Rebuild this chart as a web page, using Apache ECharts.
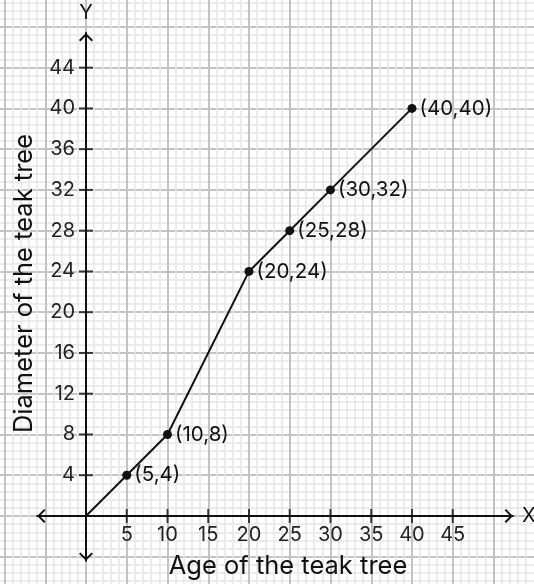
<!DOCTYPE html>
<html>
<head>
<meta charset="utf-8">
<script src="https://cdn.jsdelivr.net/npm/echarts@6/dist/echarts.min.js"></script>
<style>
html,body{margin:0;padding:0;background:#fff;}
#chart{width:534px;height:584px;}
</style>
</head>
<body>
<div id="chart"></div>
<script>
// Data
const ages = [0, 5, 10, 20, 25, 30, 40];
const diameters = [0, 4, 8, 24, 28, 32, 40];
const xTicks = [5, 10, 15, 20, 25, 30, 35, 40, 45];
const yTicks = [4, 8, 12, 16, 20, 24, 28, 32, 36, 40, 44];
const xTitle = 'Age of the teak tree';
const yTitle = 'Diameter of the teak tree';

const FONT = 'Inter, Roboto, "DejaVu Sans", sans-serif';
const INK = '#111111';
const chevron = 'path://M7,0L14,7L12.6,8.4L7,2.8L1.4,8.4L0,7Z';

const lineData = ages.map(function (a, i) {
  const item = { value: [a, diameters[i]] };
  if (a === 0 && diameters[i] === 0) {
    item.symbol = 'none';
    item.label = { show: false };
  }
  return item;
});

const X_MAX = 52.4, Y_MAX = 47.4;

const chart = echarts.init(document.getElementById('chart'), null, { renderer: 'canvas' });
chart.setOption({
  animation: false,
  backgroundColor: '#ffffff',
  grid: [
    { left: -36.25, right: -41, top: -13.9, bottom: -13.5, containLabel: false, outerBoundsMode: 'none' },
    { left: 37.1, right: 21, top: 33, bottom: 23.2, containLabel: false, outerBoundsMode: 'none' },
    { left: 86, right: 21, top: 33, bottom: 68, containLabel: false, outerBoundsMode: 'none' }
  ],
  xAxis: [
    {
      type: 'value', gridIndex: 0, min: -15, max: 60, interval: 5,
      axisLine: { show: false }, axisTick: { show: false }, axisLabel: { show: false },
      splitLine: { show: true, lineStyle: { color: '#c3c3c9', width: 2 } },
      minorTick: { show: false, splitNumber: 5 },
      minorSplitLine: { show: true, lineStyle: { color: '#e6e6eb', width: 1.5 } }
    },
    {
      type: 'value', gridIndex: 1, min: -6, max: X_MAX,
      name: 'X', nameLocation: 'end', nameGap: 9,
      nameTextStyle: { fontFamily: FONT, fontSize: 20, color: INK },
      axisLine: {
        show: true, onZero: true,
        lineStyle: { color: INK, width: 2 },
        symbol: [chevron, chevron], symbolSize: [14, 8.4], symbolOffset: [4.2, -4.2]
      },
      axisTick: { show: false },
      splitLine: { show: false },
      axisLabel: { show: false }
    },
    {
      type: 'value', gridIndex: 2, min: 0, max: X_MAX,
      axisLine: { show: false }, axisTick: { show: false }, splitLine: { show: false },
      axisLabel: { show: true, customValues: xTicks, margin: 9, fontFamily: FONT, fontSize: 20, color: '#222' }
    }
  ],
  yAxis: [
    {
      type: 'value', gridIndex: 0, min: -8, max: 52, interval: 4,
      axisLine: { show: false }, axisTick: { show: false }, axisLabel: { show: false },
      splitLine: { show: true, lineStyle: { color: '#c3c3c9', width: 2 } },
      minorTick: { show: false, splitNumber: 5 },
      minorSplitLine: { show: true, lineStyle: { color: '#e6e6eb', width: 1.5 } }
    },
    {
      type: 'value', gridIndex: 1, min: -4.4, max: Y_MAX,
      name: 'Y', nameLocation: 'end', nameGap: 10,
      nameTextStyle: { fontFamily: FONT, fontSize: 20, color: INK },
      axisLine: {
        show: true, onZero: true,
        lineStyle: { color: INK, width: 2 },
        symbol: [chevron, chevron], symbolSize: [14, 8.4], symbolOffset: [4.2, -4.2]
      },
      axisTick: { show: false },
      splitLine: { show: false },
      axisLabel: { show: false }
    },
    {
      type: 'value', gridIndex: 2, min: 0, max: Y_MAX,
      axisLine: { show: false }, axisTick: { show: false }, splitLine: { show: false },
      axisLabel: { show: true, customValues: yTicks, margin: 11, fontFamily: FONT, fontSize: 20, color: '#222' }
    }
  ],
  series: [
    {
      type: 'scatter', xAxisIndex: 1, yAxisIndex: 1, silent: true,
      symbol: 'rect', symbolSize: [2, 14],
      itemStyle: { color: INK },
      data: xTicks.map(function (v) { return [v, 0]; }),
      z: 3
    },
    {
      type: 'scatter', xAxisIndex: 1, yAxisIndex: 1, silent: true,
      symbol: 'rect', symbolSize: [14, 2],
      itemStyle: { color: INK },
      data: yTicks.map(function (v) { return [0, v]; }),
      z: 3
    },
    {
      type: 'line', xAxisIndex: 1, yAxisIndex: 1,
      data: lineData,
      symbol: 'circle', symbolSize: 9, showAllSymbol: true,
      lineStyle: { color: INK, width: 2 },
      itemStyle: { color: INK },
      label: {
        show: true, position: 'right', distance: 3,
        fontFamily: FONT, fontSize: 20.5, color: INK,
        formatter: function (p) { return '(' + p.value[0] + ',' + p.value[1] + ')'; }
      },
      z: 4
    }
  ],
  graphic: [
    {
      type: 'text', x: 288, y: 566, z: 100,
      style: { text: xTitle, fontFamily: FONT, fontSize: 25.5, fill: INK, align: 'center', verticalAlign: 'middle' }
    },
    {
      type: 'text', x: 24, y: 283.5, rotation: Math.PI / 2, z: 100,
      style: { text: yTitle, fontFamily: FONT, fontSize: 25.5, fill: INK, align: 'center', verticalAlign: 'middle' }
    }
  ]
});
</script>
</body>
</html>
